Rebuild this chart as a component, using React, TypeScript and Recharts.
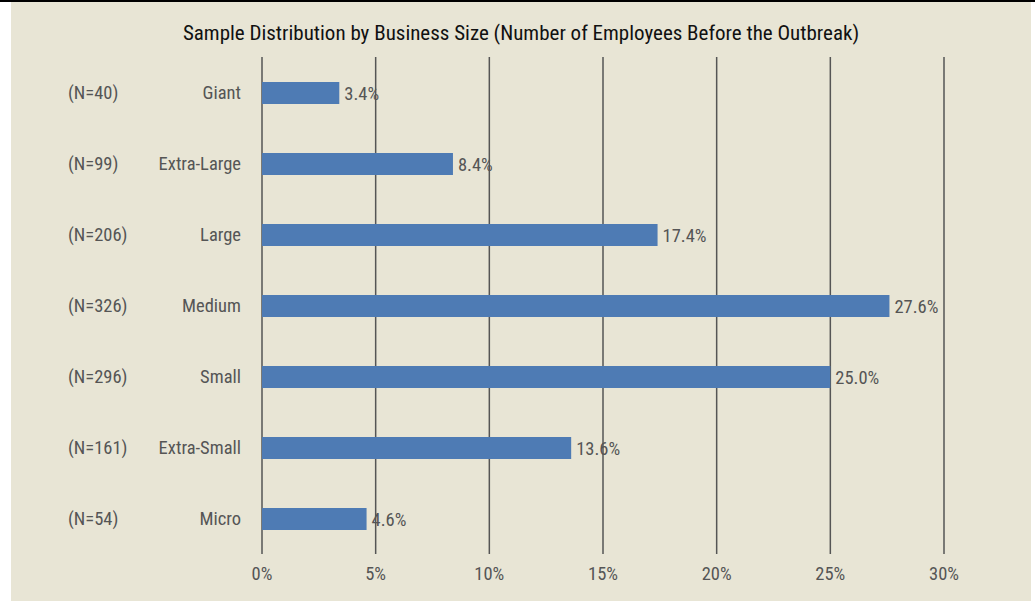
import { BarChart, Bar, XAxis, YAxis, CartesianGrid, LabelList } from "recharts";

const categories = ["Giant", "Extra-Large", "Large", "Medium", "Small", "Extra-Small", "Micro"];
const counts = [40, 99, 206, 326, 296, 161, 54];
const shares = [3.4, 8.4, 17.4, 27.6, 25.0, 13.6, 4.6];
const xTicks = [0, 5, 10, 15, 20, 25, 30];

const data = categories.map((name, i) => ({ name, n: counts[i], value: shares[i] }));

const FONT = '"Liberation Sans Narrow", "Roboto Condensed", "Liberation Sans", Arial, sans-serif';
const GRAY = "#555555";

const CategoryTick = (props: any) => {
  const { x, y, payload, index } = props;
  return (
    <g>
      <text x={57} y={y} dy={6} textAnchor="start" fill={GRAY} fontSize={18.5} fontFamily={FONT}>
        {`(N=${counts[index]})`}
      </text>
      <text x={x} y={y} dy={6} textAnchor="end" fill={GRAY} fontSize={18.5} fontFamily={FONT}>
        {payload.value}
      </text>
    </g>
  );
};

const App = () => {
  return (
    <div style={{ position: "absolute", left: 0, top: 0, width: 1035, height: 601, background: "#ffffff" }}>
      <div style={{ position: "absolute", left: 0, top: 0, width: 1035, height: 2, background: "#000" }} />
      <div style={{ position: "absolute", left: 11, top: 2, width: 1020, height: 599, background: "#e8e5d5" }}>
        <div
          style={{
            position: "absolute",
            left: 0,
            top: 19,
            width: 1020,
            textAlign: "center",
            fontFamily: FONT,
            fontSize: 21,
            color: "#111",
            lineHeight: "24px",
          }}
        >
          Sample Distribution by Business Size (Number of Employees Before the Outbreak)
        </div>
        <BarChart
          width={1020}
          height={599}
          data={data}
          layout="vertical"
          margin={{ top: 55, right: 87, bottom: 17, left: 0 }}
          barCategoryGap={24}
        >
          <CartesianGrid horizontal={false} vertical={true} stroke={GRAY} strokeWidth={1.5} />
          <XAxis
            type="number"
            domain={[0, 30]}
            ticks={xTicks}
            tickFormatter={(v) => `${v}%`}
            axisLine={false}
            tickLine={false}
            tick={{ fill: GRAY, fontSize: 18.5, fontFamily: FONT }}
            tickMargin={7}
            height={30}
            interval={0}
          />
          <YAxis
            type="category"
            dataKey="name"
            width={251}
            axisLine={false}
            tickLine={false}
            tick={<CategoryTick />}
            tickMargin={15}
            interval={0}
          />
          <Bar dataKey="value" fill="#4e7bb4" barSize={22} isAnimationActive={false}>
            <LabelList
              dataKey="value"
              position="right"
              offset={5}
              formatter={(v: any) => `${Number(v).toFixed(1)}%`}
              fill={GRAY}
              fontSize={18.5}
              fontFamily={FONT}
            />
          </Bar>
        </BarChart>
      </div>
    </div>
  );
};

export default App;
